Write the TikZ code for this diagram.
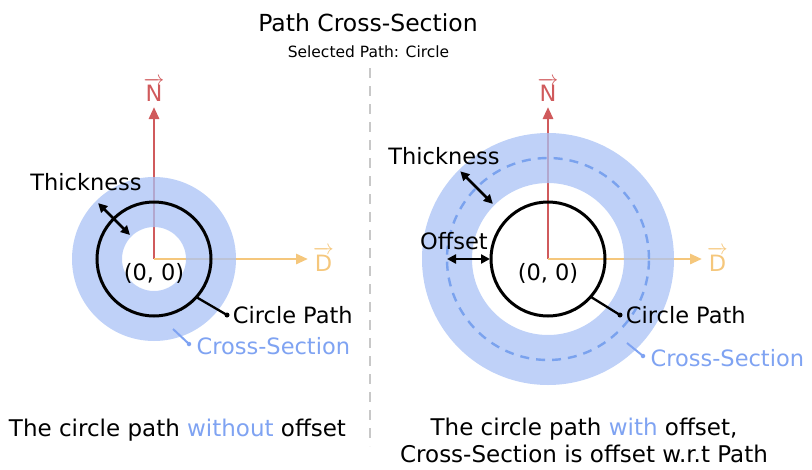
\documentclass[tikz,border=0pt]{standalone}
\usepackage{amsmath}
\usepackage{fontspec}
\setmainfont{DejaVu Sans}
\usetikzlibrary{arrows.meta, positioning, calc}
\definecolor{ringblue}{HTML}{A9C2F5}
\definecolor{lblblue}{HTML}{7FA3F2}
\definecolor{dashblue}{HTML}{7AA2EE}
\definecolor{nred}{HTML}{D05A5C}
\definecolor{dorange}{HTML}{F5C77C}
\definecolor{sepgray}{HTML}{C8C8C8}
\tikzset{
  lbl/.style={font=\fontsize{22.5}{27}\selectfont, inner sep=0pt},
  note/.style={font=\fontsize{23}{27}\selectfont, inner sep=0pt, align=center},
  ring/.style={fill=ringblue, fill opacity=0.75, even odd rule},
  pathc/.style={draw=black, line width=3pt},
  offc/.style={draw=dashblue, line width=2.4pt, dash pattern=on 9pt off 7pt},
  narr/.style={-{Triangle[length=12pt, width=10pt]}, line width=2.8pt, nred},
  darr/.style={-{Triangle[length=12pt, width=10pt]}, line width=2.8pt, dorange},
  dimarr/.style={{Triangle[length=9pt, width=9pt]}-{Triangle[length=9pt, width=9pt]},
    line width=2.5pt, black},
  lead/.style={line width=2.3pt, black},
  bluelead/.style={line width=2pt, lblblue},
  dot/.style={circle, fill=black, inner sep=0pt, minimum size=5pt},
  bluedot/.style={circle, fill=lblblue, inner sep=0pt, minimum size=4.5pt},
  sep/.style={line width=2.6pt, sepgray, dash pattern=on 10pt off 8pt},
}

\begin{document}
\begin{tikzpicture}[x=1pt, y=1pt]
\useasboundingbox (0,0) rectangle (812,-469);

% ── header ────────────────────────────────────────────────────────────
\node[font=\fontsize{23.5}{28}\selectfont, inner sep=0pt, anchor=base]
  (title) at (368,-31.7) {Path Cross-Section};
\node[font=\fontsize{15.5}{18}\selectfont, inner sep=0pt, anchor=base]
  (subtitle) at (368.5,-57.3) {Selected Path: Circle};

% ── divider ───────────────────────────────────────────────────────────
\coordinate (sepT) at (370,-68);
\coordinate (sepB) at (370,-446);
\draw[sep] (sepT) -- (sepB);

% ── left: circle path without offset ──────────────────────────────────
\begin{scope}[shift={(154,-259)}]
  \coordinate (oL) at (0,0);
  \coordinate (ntipL) at (0,152);
  \coordinate (dtipL) at (154,0);
  \draw[narr] (oL) -- (ntipL);
  \draw[darr] (oL) -- (dtipL);
  \node[lbl, nred, above=5pt of ntipL] (nL) {$\overrightarrow{\text{N}}$};
  \node[lbl, dorange, right=5pt of dtipL] (dL) {$\overrightarrow{\text{D}}$};
  % cross-section ring over the axes
  \fill[ring] (oL) circle (82pt) (oL) circle (32pt);
  \draw[pathc] (oL) circle (57pt);
  \node[lbl] (originL) at (0,-14) {(0, 0)};
  % thickness
  \coordinate (thkaL) at (135:79);
  \coordinate (thkbL) at (135:34);
  \draw[dimarr] (thkaL) -- (thkbL);
  \node[lbl] (thkL) at (-68,77) {Thickness};
  % leaders
  \coordinate (cpL) at (-42:57);
  \node[dot] (cpdotL) at (73,-56) {};
  \draw[lead] (cpL) -- (cpdotL.center);
  \node[lbl, right=3pt of cpdotL] (cptxtL) {Circle Path};
  \coordinate (csL) at (19,-70);
  \node[bluedot] (csdotL) at (35,-85) {};
  \draw[bluelead] (csL) -- (csdotL.center);
  \node[lbl, lblblue, right=5pt of csdotL, yshift=-2pt] (cstxtL) {Cross-Section};
\end{scope}

% ── right: circle path with offset ────────────────────────────────────
\begin{scope}[shift={(548,-259)}]
  \coordinate (oR) at (0,0);
  \coordinate (ntipR) at (0,152);
  \coordinate (dtipR) at (154,0);
  \draw[narr] (oR) -- (ntipR);
  \draw[darr] (oR) -- (dtipR);
  \node[lbl, nred, above=5pt of ntipR] (nR) {$\overrightarrow{\text{N}}$};
  \node[lbl, dorange, right=5pt of dtipR] (dR) {$\overrightarrow{\text{D}}$};
  % ring sits around the offset circle
  \fill[ring] (oR) circle (126pt) (oR) circle (76pt);
  \draw[offc] (oR) circle (101pt);
  \draw[pathc] (oR) circle (57pt);
  \node[lbl] (originR) at (0,-14) {(0, 0)};
  % thickness and offset
  \coordinate (thkaR) at (135:124);
  \coordinate (thkbR) at (135:78);
  \draw[dimarr] (thkaR) -- (thkbR);
  \node[lbl] (thkR) at (-104,103) {Thickness};
  \coordinate (offaR) at (180:101);
  \coordinate (offbR) at (180:58);
  \draw[dimarr] (offaR) -- (offbR);
  \node[lbl] (offR) at (-94,18) {Offset};
  % leaders
  \coordinate (cpR) at (-41.5:57);
  \node[dot] (cpdotR) at (72,-56) {};
  \draw[lead] (cpR) -- (cpdotR.center);
  \node[lbl, right=3pt of cpdotR] (cptxtR) {Circle Path};
  \coordinate (csR) at (79,-84);
  \node[bluedot] (csdotR) at (95,-97) {};
  \draw[bluelead] (csR) -- (csdotR.center);
  \node[lbl, lblblue, right=5pt of csdotR, yshift=-2pt] (cstxtR) {Cross-Section};
\end{scope}

% ── captions ──────────────────────────────────────────────────────────
\node[note, anchor=base] (capL) at (177.5,-436)
  {The circle path \textcolor{lblblue}{without} offset};
\node[note, anchor=north] (capR) at (584,-418)
  {The circle path \textcolor{lblblue}{with} offset,\\
   Cross-Section is offset w.r.t Path};

\end{tikzpicture}
\end{document}
